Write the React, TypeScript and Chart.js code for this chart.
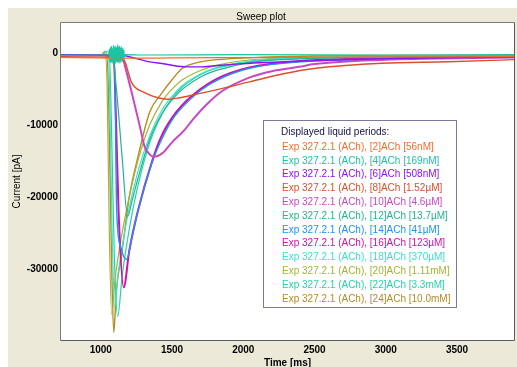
import React, { useEffect, useRef } from "react";
import { Chart, registerables } from "chart.js";

Chart.register(...registerables);

const FONT = '"Liberation Sans", Arial, sans-serif';

const chartTitle = "Sweep plot";
const xTitle = "Time [ms]";
const yTitle = "Current [pA]";
const legendTitle = "Displayed liquid periods:";

const xTicks = [1000, 1500, 2000, 2500, 3000, 3500];
const yTicks = [0, -10000, -20000, -30000];
const xMin = 721;
const xMax = 3900;
const yMin = -39900;
const yMax = 4200;

const labels = [
  "Exp 327.2.1 (ACh), [2]ACh [56nM]",
  "Exp 327.2.1 (ACh), [4]ACh [169nM]",
  "Exp 327.2.1 (ACh), [6]ACh [508nM]",
  "Exp 327.2.1 (ACh), [8]ACh [1.52µM]",
  "Exp 327.2.1 (ACh), [10]ACh [4.6µM]",
  "Exp 327.2.1 (ACh), [12]ACh [13.7µM]",
  "Exp 327.2.1 (ACh), [14]ACh [41µM]",
  "Exp 327.2.1 (ACh), [16]ACh [123µM]",
  "Exp 327.2.1 (ACh), [18]ACh [370µM]",
  "Exp 327.2.1 (ACh), [20]ACh [1.11mM]",
  "Exp 327.2.1 (ACh), [22]ACh [3.3mM]",
  "Exp 327.2.1 (ACh), [24]ACh [10.0mM]",
];

const colors = [
  "#f06e2c",
  "#1cc4a2",
  "#8c10f8",
  "#d8502c",
  "#c848c4",
  "#22b48e",
  "#2090f8",
  "#d010a8",
  "#3ce0d0",
  "#a4b434",
  "#22d4a8",
  "#b48c24",
];

const widths = [1.2, 1.2, 1.4, 1.4, 2, 1.2, 1.4, 2, 1.2, 1.2, 1.2, 1.4];

// [2] 56nM
const t2 = [721, 1000, 1060, 1100, 1200, 1500, 2000, 2500, 3000, 3500, 3900];
const v2 = [-600, -650, -700, -600, -700, -650, -600, -550, -500, -500, -450];
// [4] 169nM (noisy artefact around 1060-1170 ms)
const t4 = [721, 1000, 1055, 1060, 1063, 1066, 1069, 1072, 1075, 1078, 1081, 1084, 1087, 1090, 1093, 1096, 1099, 1102, 1105, 1108, 1111, 1114, 1117, 1120, 1123, 1126, 1129, 1132, 1135, 1138, 1141, 1144, 1147, 1150, 1153, 1156, 1159, 1162, 1166, 1175, 1300, 2000, 3000, 3900];
const v4 = [-300, -250, -200, 500, -1100, 700, -1300, 900, -1200, 1000, -1400, 600, -1000, 1100, -1300, 800, -1200, 1000, -1400, 700, -1100, 900, -1300, 1200, -1200, 800, -1400, 1000, -1100, 700, -1300, 900, -1000, 600, -1200, 700, -900, 400, -500, -200, -250, -200, -250, -200];
// [6] 508nM
const t6 = [721, 1000, 1100, 1150, 1200, 1280, 1343, 1450, 1517, 1600, 1700, 1800, 2000, 2400, 3000, 3500, 3900];
const v6 = [-200, -250, -200, -250, -500, -900, -1200, -1500, -1750, -1900, -1900, -1750, -1450, -1100, -750, -600, -500];
// [8] 1.52uM
const t8 = [721, 1000, 1100, 1150, 1170, 1217, 1308, 1400, 1470, 1552, 1650, 1811, 2042, 2273, 2510, 2972, 3440, 3900];
const v8 = [-500, -550, -500, -700, -1200, -4100, -5500, -6200, -6400, -6200, -5800, -5100, -4000, -2900, -2100, -1400, -1200, -900];
// [10] 4.6uM
const t10 = [721, 1000, 1150, 1170, 1220, 1270, 1308, 1340, 1370, 1400, 1434, 1500, 1587, 1643, 1750, 1850, 2042, 2200, 2392, 2500, 3000, 3500, 3900];
const v10 = [-300, -300, -400, -1800, -5700, -9800, -13000, -14000, -14400, -14300, -13900, -12400, -10700, -9300, -7000, -5300, -3400, -2500, -1900, -1500, -900, -700, -600];
// [12] 13.7uM
const t12 = [721, 1000, 1080, 1110, 1150, 1189, 1220, 1260, 1343, 1427, 1500, 1573, 1700, 1811, 2042, 2400, 3000, 3900];
const v12 = [-300, -300, -300, -5000, -14500, -22700, -20500, -17500, -12000, -8500, -6500, -5000, -3300, -2400, -1300, -800, -500, -400];
// [14] 41uM
const t14 = [721, 1000, 1095, 1112, 1140, 1182, 1220, 1260, 1364, 1427, 1500, 1573, 1700, 1811, 2042, 2400, 3000, 3500, 3900];
const v14 = [-300, -300, -300, -22000, -27000, -28700, -25500, -22000, -15000, -12000, -9300, -7500, -5200, -3800, -2100, -1200, -800, -600, -500];
// [16] 123uM
const t16 = [721, 1000, 1090, 1105, 1125, 1161, 1200, 1260, 1364, 1427, 1500, 1573, 1700, 1811, 2042, 2400, 3000, 3900];
const v16 = [-300, -300, -300, -8000, -22000, -32600, -27500, -22000, -14800, -11500, -9000, -7200, -5000, -3600, -2000, -1100, -700, -500];
// [18] 370uM
const t18 = [721, 1000, 1050, 1060, 1080, 1098, 1120, 1150, 1200, 1260, 1343, 1427, 1500, 1573, 1700, 1811, 2042, 2400, 3000, 3900];
const v18 = [-300, -300, 300, -3000, -25000, -35300, -31000, -27000, -21500, -16500, -11500, -8000, -6000, -4500, -2900, -2000, -1100, -650, -450, -350];
// [20] 1.11mM
const t20 = [721, 1000, 1030, 1045, 1060, 1077, 1100, 1150, 1200, 1260, 1343, 1427, 1500, 1573, 1700, 1811, 2042, 2400, 3000, 3900];
const v20 = [-300, -300, 300, -5000, -25000, -36350, -31500, -25000, -20000, -15000, -10000, -6800, -5000, -3700, -2400, -1700, -950, -600, -450, -350];
// [22] 3.3mM
const t22 = [721, 1000, 1060, 1075, 1095, 1119, 1150, 1200, 1260, 1343, 1427, 1500, 1573, 1700, 1811, 2042, 2400, 3000, 3900];
const v22 = [-300, -300, -300, -10000, -28000, -36650, -31000, -24500, -18500, -12500, -8600, -6300, -4700, -3000, -2100, -1200, -700, -450, -350];
// [24] 10.0mM
const t24 = [721, 1000, 1040, 1055, 1075, 1091, 1110, 1150, 1200, 1260, 1343, 1427, 1500, 1573, 1700, 1811, 2042, 2500, 3000, 3900];
const v24 = [-300, -300, 200, -6000, -28000, -38850, -33000, -27500, -20000, -14500, -8200, -5600, -3700, -2100, -1200, -900, -650, -400, -300, -250];

const times = [t2, t4, t6, t8, t10, t12, t14, t16, t18, t20, t22, t24];
const values = [v2, v4, v6, v8, v10, v12, v14, v16, v18, v20, v22, v24];

const bgPlugin = {
  id: "bg",
  beforeDraw(chart: any) {
    const { ctx, width, height, chartArea } = chart;
    ctx.save();
    ctx.fillStyle = "#ece9d8";
    ctx.fillRect(0, 0, width, height);
    ctx.fillStyle = "#ffffff";
    ctx.fillRect(chartArea.left, chartArea.top, chartArea.right - chartArea.left, chartArea.bottom - chartArea.top);
    ctx.restore();
  },
  afterDatasetsDraw(chart: any) {
    const { ctx, chartArea } = chart;
    const l = Math.round(chartArea.left) - 0.5;
    const t = Math.round(chartArea.top) - 0.5;
    const r = Math.round(chartArea.right) + 0.5;
    const b = Math.round(chartArea.bottom) + 0.5;
    ctx.save();
    ctx.lineWidth = 1;
    ctx.strokeStyle = "#7c7c7c";
    ctx.beginPath();
    ctx.moveTo(l, b);
    ctx.lineTo(l, t);
    ctx.lineTo(r, t);
    ctx.stroke();
    ctx.strokeStyle = "#5c5c5c";
    ctx.beginPath();
    ctx.moveTo(r, t);
    ctx.lineTo(r, b);
    ctx.lineTo(l, b);
    ctx.stroke();

    // legend box
    const x0 = chartArea.left + 202;
    const y0 = chartArea.top + 97;
    const w = 193;
    const h = 187;
    ctx.fillStyle = "#ffffff";
    ctx.fillRect(x0, y0, w, h);
    ctx.strokeStyle = "#7a7a9c";
    ctx.strokeRect(x0 + 0.5, y0 + 0.5, w, h);
    ctx.font = `10px ${FONT}`;
    ctx.textBaseline = "middle";
    ctx.textAlign = "left";
    ctx.fillStyle = "#10104a";
    ctx.fillText(legendTitle, x0 + 18, y0 + 12);
    chart.data.datasets.forEach((ds: any, i: number) => {
      ctx.fillStyle = ds.borderColor;
      ctx.fillText(ds.label, x0 + 19, y0 + 27 + i * 13.8);
    });
    ctx.restore();
  },
};

export default function App() {
  const ref = useRef<HTMLCanvasElement | null>(null);
  useEffect(() => {
    document.documentElement.style.overflow = "hidden";
    if (!ref.current) return;
    const datasets = labels.map((label, i) => ({
      label,
      data: times[i].map((x, j) => ({ x, y: values[i][j] })),
      borderColor: colors[i],
      backgroundColor: colors[i],
      borderWidth: widths[i],
      pointRadius: 0,
      fill: false,
      cubicInterpolationMode: "monotone" as const,
    }));
    const chart = new Chart(ref.current, {
      type: "line",
      data: { datasets },
      options: {
        animation: false,
        responsive: false,
        devicePixelRatio: 1,
        layout: { padding: { left: 0, right: 3, top: 0, bottom: 0 } },
        plugins: {
          legend: { display: false },
          tooltip: { enabled: false },
          title: {
            display: true,
            text: chartTitle,
            color: "#000",
            font: { family: FONT, size: 10, weight: "normal" },
            padding: { top: 3, bottom: 0 },
          },
        },
        scales: {
          x: {
            type: "linear",
            min: xMin,
            max: xMax,
            grid: { display: false, drawTicks: false },
            border: { display: false },
            afterBuildTicks: (s: any) => {
              s.ticks = xTicks.map((v) => ({ value: v }));
            },
            afterFit: (s: any) => {
              s.height = 36;
            },
            ticks: {
              color: "#000",
              padding: 4,
              maxRotation: 0,
              font: { family: FONT, size: 10, weight: "bold" },
              callback: (v: any) => String(v),
            },
            title: {
              display: true,
              text: xTitle,
              color: "#000",
              font: { family: FONT, size: 10, weight: "bold" },
              padding: { top: 0, bottom: 7 },
            },
          },
          y: {
            type: "linear",
            min: yMin,
            max: yMax,
            grid: { display: false, drawTicks: false },
            border: { display: false },
            afterBuildTicks: (s: any) => {
              s.ticks = yTicks.map((v) => ({ value: v }));
            },
            afterFit: (s: any) => {
              s.width = 53;
            },
            ticks: {
              color: "#000",
              padding: 3,
              font: { family: FONT, size: 10, weight: "bold" },
              callback: (v: any) => String(v),
            },
            title: {
              display: true,
              text: yTitle,
              color: "#000",
              font: { family: FONT, size: 10, weight: "normal" },
              padding: { top: 3, bottom: 0 },
            },
          },
        },
      },
      plugins: [bgPlugin],
    });
    return () => chart.destroy();
  }, []);
  return (
    <div
      style={{
        position: "fixed",
        left: 8,
        top: 8,
        width: 509,
        height: 359,
        overflow: "hidden",
        background: "#ece9d8",
      }}
    >
      <canvas ref={ref} width={509} height={368} style={{ display: "block" }} />
    </div>
  );
}
